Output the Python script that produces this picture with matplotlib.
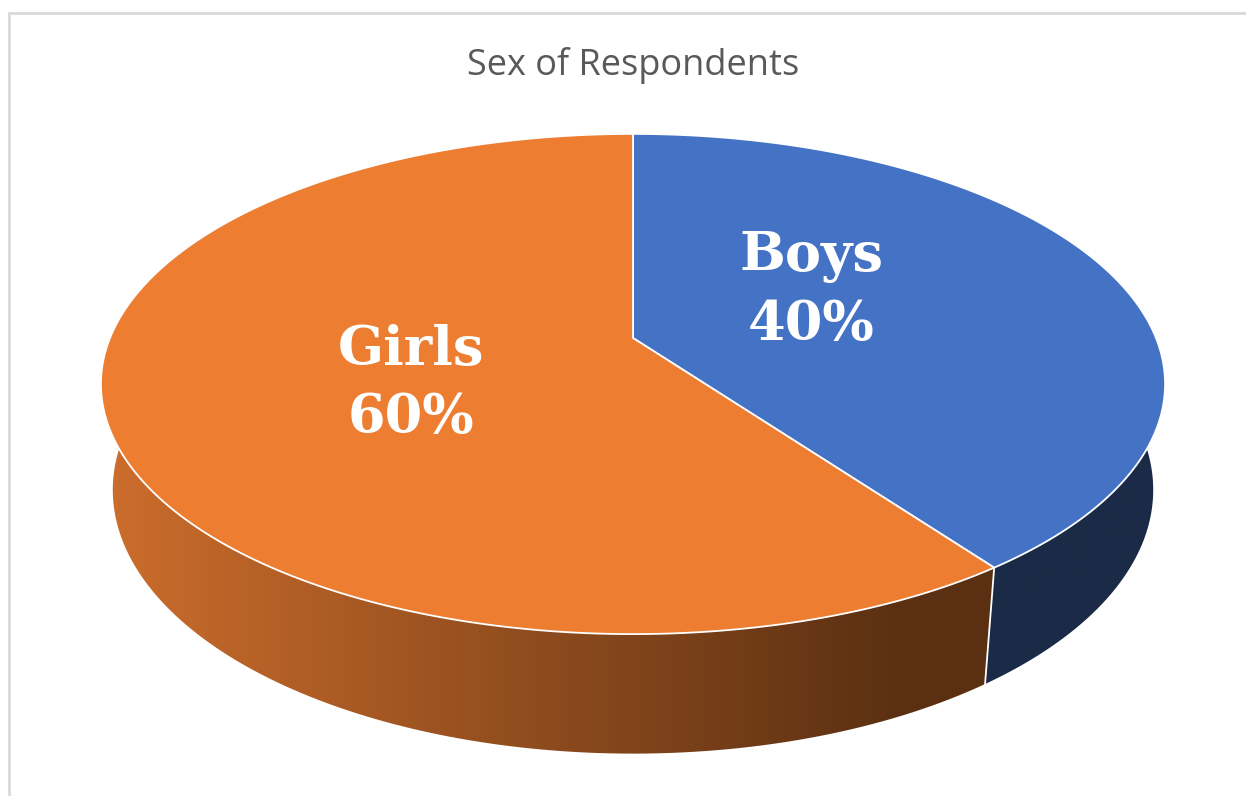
import math
import numpy as np
import matplotlib
matplotlib.use("Agg")
from matplotlib import pyplot as plt
from matplotlib.patches import Polygon
from matplotlib.colors import LinearSegmentedColormap

# survey split
groups = ["Boys", "Girls"]
shares = [40, 60]
title = "Sex of Respondents"

top_colors = ["#4472C4", "#ED7D31"]
wall_colors = [["#1C2E50", "#1A2A47"], ["#CC6D2C", "#5B3012"]]

# pie geometry in pixels, camera tilt and perspective
W, H_PX = 1246, 796
CX, CY = 633, 338
K = 523.0
TILT = math.asin(0.462)
DIST = 4.82
THICK = 0.23
label_xy = [(811, 291), (411, 384)]


def project(a, r, y):
	a = math.radians(a)
	X = r * math.cos(a)
	Z = -r * math.sin(a)
	sp, cp = math.sin(TILT), math.cos(TILT)
	w = y * sp + Z * cp
	s = DIST / (DIST - w)
	return CX + K * X * s, CY - K * (y * cp - Z * sp) * s


def arc(a0, a1, r, y, n=200):
	return [project(a, r, y) for a in np.linspace(a0, a1, n)]


fig = plt.figure(figsize=(W / 100, H_PX / 100), dpi=100)
ax = fig.add_axes([0, 0, 1, 1])
ax.set_xlim(0, W)
ax.set_ylim(H_PX, 0)
ax.axis("off")

# slice angles, clockwise from 12 o'clock
angles = []
start = 90.0
for v in shares:
	end = start - 360.0 * v / sum(shares)
	angles.append((start, end))
	start = end

# side walls with a left-to-right shading
for i, (a0, a1) in enumerate(angles):
	pts = arc(a0, a1, 1, 0) + arc(a1, a0, 1, -THICK)
	poly = Polygon(pts, closed=True, facecolor="none", edgecolor="none")
	ax.add_patch(poly)
	cmap = LinearSegmentedColormap.from_list("wall%d" % i, wall_colors[i])
	xs = np.linspace(0, W, 600)
	t = np.clip((xs - 103) / (900 - 103), 0, 1)
	img = ax.imshow(np.tile(t, (2, 1)), cmap=cmap, vmin=0, vmax=1, aspect="auto",
		extent=[0, W, H_PX, 0], interpolation="bilinear", zorder=1)
	img.set_clip_path(poly)

# white seam where the walls meet
for a0, a1 in angles:
	x0, y0 = project(a1, 1, 0)
	x1, y1 = project(a1, 1, -THICK)
	if math.sin(math.radians(a1)) < 0:
		ax.plot([x0, x1], [y0, y1], color="white", lw=1.3, zorder=2)

# top faces
for i, (a0, a1) in enumerate(angles):
	pts = [project(0, 0, 0)] + arc(a0, a1, 1, 0)
	ax.add_patch(Polygon(pts, closed=True, facecolor=top_colors[i],
		edgecolor="white", lw=1.3, joinstyle="miter", zorder=3))

for i, g in enumerate(groups):
	ax.text(label_xy[i][0], label_xy[i][1], "%s\n%d%%" % (g, shares[i]),
		ha="center", va="center", ma="center", color="white",
		family="DejaVu Serif", weight="bold", fontsize=39, linespacing=1.38, zorder=4)

ax.text(633, 65, title, ha="center", va="center", color="#595959",
	family="Open Sans", fontsize=26)

# chart area frame
ax.plot([9, 9, W + 10], [H_PX + 10, 13, 13], color="#D9D9D9", lw=2, solid_joinstyle="miter")

fig.savefig("out.png", dpi=100)
